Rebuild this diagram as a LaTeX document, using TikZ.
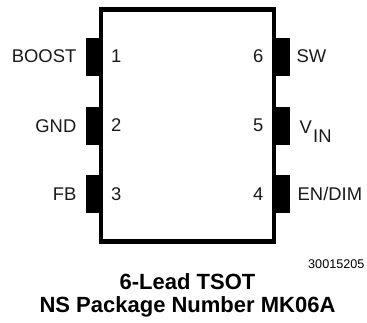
\documentclass[tikz,border=0pt]{standalone}
\usepackage{fontspec}
\setmainfont{Liberation Sans}
\tikzset{
  pin/.style={fill=black,draw=none},
  lab/.style={inner sep=0pt,font=\fontsize{18.4}{21}\selectfont,text=black!90},
  title/.style={inner sep=0pt,font=\fontsize{22}{25}\bfseries\selectfont,anchor=base},
}
\begin{document}
\begin{tikzpicture}[x=1pt,y=-1pt]
\useasboundingbox (0,0) rectangle (367,322);
\draw[line width=4.6pt,miter limit=10] (101,9.5) rectangle (274,241.5);
\fill[pin] (85.5,37.5) rectangle (100,76);
\fill[pin] (85.5,106.5) rectangle (100,144.5);
\fill[pin] (85.5,175) rectangle (100,213.3);
\fill[pin] (275,37.5) rectangle (290,76);
\fill[pin] (275,106.5) rectangle (290,144.5);
\fill[pin] (275,175) rectangle (290,213.3);
\node[lab,anchor=base east] (boost) at (76.5,62) {BOOST};
\node[lab,anchor=base east] (gnd) at (76.5,132) {GND};
\node[lab,anchor=base east] (fb) at (76.5,200) {FB};
\node[lab,anchor=base west] (p1) at (111,62) {1};
\node[lab,anchor=base west] (p2) at (111,131) {2};
\node[lab,anchor=base west] (p3) at (111,200) {3};
\node[lab,anchor=base east] (p6) at (263.5,62) {6};
\node[lab,anchor=base east] (p5) at (263.5,131) {5};
\node[lab,anchor=base east] (p4) at (263.5,200) {4};
\node[lab,anchor=base west] (sw) at (296.5,62) {SW};
\node[lab,anchor=base west] (vin) at (299.5,133) {V};
\node[lab,anchor=base west] (in) at (313,142) {IN};
\node[lab,anchor=base west] (en) at (297.5,200) {EN/DIM};
\node[inner sep=0pt,anchor=base east,font=\fontsize{12.6}{15}\selectfont] (code) at (364.5,268.5) {30015205};
\node[title] (t1) at (187.5,289) {6-Lead TSOT};
\node[title] (t2) at (187.5,312.5) {NS Package Number MK06A};
\end{tikzpicture}
\end{document}
